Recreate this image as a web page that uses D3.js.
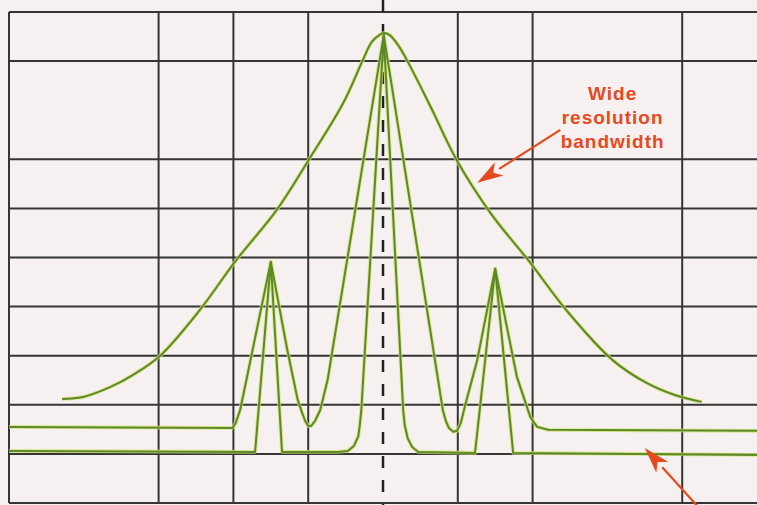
<!DOCTYPE html>
<html>
<head>
<meta charset="utf-8">
<script src="https://cdn.jsdelivr.net/npm/d3@7"></script>
<style>
  html, body { margin: 0; padding: 0; background: #f6f0f0; }
  svg { display: block; }
</style>
</head>
<body>
<svg id="chart" width="757" height="505"></svg>
<script>
// graticule: 10 horizontal divisions, 10 dB/div
var gridX = [0, 2, 3, 4, 6, 7, 9];
var centerX = [5];
var gridDb = [0, -10, -30, -40, -50, -60, -70, -80, -90, -100];

// wide resolution bandwidth trace
var wideX  = [0.71, 0.99, 1.35, 1.66, 2.02, 2.55, 3.03, 3.58, 4.00, 4.47, 4.73, 4.85, 4.95, 5.01, 5.09, 5.20, 5.32, 5.63, 5.99, 6.44, 6.96, 7.46, 8.07, 8.53, 8.90, 9.26];
var wideDb = [-78.8, -78.4, -76.4, -73.9, -70.0, -60.7, -50.7, -40.3, -30.3, -18.5, -9.8, -6.1, -4.7, -4.3, -4.7, -6.7, -9.8, -19.1, -30.3, -41.0, -50.9, -60.9, -70.9, -75.6, -78.0, -79.4];

// medium bandwidth trace
var mediumX  = [0.00, 2.99, 3.03, 3.09, 3.50, 3.72, 3.86, 3.92, 3.96, 4.00, 4.04, 4.09, 4.16, 4.26, 5.01, 5.80, 5.84, 5.88, 5.94, 5.99, 6.04, 6.10, 6.26, 6.50, 6.79, 6.97, 7.06, 7.21, 10.00];
var mediumDb = [-84.5, -84.7, -83.7, -81.1, -50.9, -68.8, -79.0, -81.7, -83.3, -84.3, -84.3, -83.3, -81.1, -74.9, -4.7, -81.1, -83.3, -84.7, -85.5, -85.3, -83.7, -80.0, -70.9, -52.3, -74.3, -82.5, -84.5, -85.1, -85.3];

// narrow bandwidth trace
var narrowX  = [0.00, 3.29, 3.50, 3.65, 4.40, 4.53, 4.61, 4.67, 4.69, 4.71, 5.01, 5.27, 5.29, 5.33, 5.39, 5.47, 6.23, 6.50, 6.74, 10.00];
var narrowDb = [-89.4, -89.6, -50.9, -89.6, -89.6, -89.4, -88.4, -86.4, -84.1, -81.1, -4.7, -81.1, -84.1, -86.8, -88.6, -89.6, -89.8, -52.3, -89.8, -90.2];

var labelLines = ["Wide", "resolution", "bandwidth"];
var labelX = 8.07, labelDb = [-17.9, -22.8, -27.7];
var arrowWide = {x1: 7.37, db1: -24.0, x2: 6.26, db2: -34.8};
var arrowNarrow = {x1: 9.32, db1: -102.6, x2: 8.50, db2: -88.8};

var svg = d3.select("#chart"),
    width = +svg.attr("width"),
    height = +svg.attr("height");

var x = d3.scaleLinear().domain([0, 10]).range([9, 757]);
var y = d3.scaleLinear().domain([0, -100]).range([12, 503]);

svg.append("rect").attr("width", width).attr("height", height).attr("fill", "#f6f0f0");

// grid
var grid = svg.append("g").attr("stroke", "#353535").attr("stroke-width", 2);
grid.selectAll("line.h").data(gridDb).enter().append("line")
    .attr("class", "h")
    .attr("x1", x(0)).attr("x2", width)
    .attr("y1", function(d) { return y(d); })
    .attr("y2", function(d) { return y(d); });
grid.selectAll("line.v").data(gridX).enter().append("line")
    .attr("class", "v")
    .attr("x1", function(d) { return x(d); })
    .attr("x2", function(d) { return x(d); })
    .attr("y1", y(0)).attr("y2", y(-100));

svg.selectAll("line.center").data(centerX).enter().append("line")
    .attr("class", "center")
    .attr("x1", function(d) { return x(d); })
    .attr("x2", function(d) { return x(d); })
    .attr("y1", 0).attr("y2", height)
    .attr("stroke", "#222")
    .attr("stroke-width", 2.5)
    .attr("stroke-dasharray", "12,12");

function toPoints(xs, dbs) {
    return xs.map(function(v, i) { return [v, dbs[i]]; });
}

var lineLinear = d3.line()
    .x(function(d) { return x(d[0]); })
    .y(function(d) { return y(d[1]); });
var lineSmooth = d3.line()
    .x(function(d) { return x(d[0]); })
    .y(function(d) { return y(d[1]); })
    .curve(d3.curveCatmullRom.alpha(0.5));

var traces = [
    {pts: toPoints(narrowX, narrowDb), gen: lineLinear},
    {pts: toPoints(mediumX, mediumDb), gen: lineLinear},
    {pts: toPoints(wideX, wideDb), gen: lineSmooth}
];

var tr = svg.append("g").attr("fill", "none").attr("stroke-linejoin", "round");
traces.forEach(function(t) {
    tr.append("path").attr("d", t.gen(t.pts))
        .attr("stroke", "#d8e070").attr("stroke-opacity", 0.8).attr("stroke-width", 3.8);
});
traces.forEach(function(t) {
    tr.append("path").attr("d", t.gen(t.pts))
        .attr("stroke", "#5b8a2a").attr("stroke-width", 2);
});

// annotation
var red = "#e6491c";
svg.append("text")
    .attr("x", x(labelX))
    .attr("text-anchor", "middle")
    .attr("fill", red)
    .style("font-family", "'Liberation Sans', Arial, sans-serif")
    .style("font-weight", "bold")
    .style("font-size", "19px")
    .style("letter-spacing", "1px")
  .selectAll("tspan").data(labelLines).enter().append("tspan")
    .attr("x", x(labelX))
    .attr("y", function(d, i) { return y(labelDb[i]); })
    .text(function(d) { return d; });

function arrow(a) {
    var x1 = x(a.x1), y1 = y(a.db1), x2 = x(a.x2), y2 = y(a.db2);
    var ang = Math.atan2(y2 - y1, x2 - x1), len = 26, hw = 8;
    var bx = x2 - len * Math.cos(ang), by = y2 - len * Math.sin(ang);
    svg.append("line")
        .attr("x1", x1).attr("y1", y1).attr("x2", bx).attr("y2", by)
        .attr("stroke", red).attr("stroke-width", 2.2);
    svg.append("path")
        .attr("d", "M" + x2 + "," + y2 +
            "L" + (bx + hw * Math.sin(ang)) + "," + (by - hw * Math.cos(ang)) +
            "L" + (bx + 7 * Math.cos(ang)) + "," + (by + 7 * Math.sin(ang)) +
            "L" + (bx - hw * Math.sin(ang)) + "," + (by + hw * Math.cos(ang)) + "Z")
        .attr("fill", red);
}
arrow(arrowWide);
arrow(arrowNarrow);
</script>
</body>
</html>
